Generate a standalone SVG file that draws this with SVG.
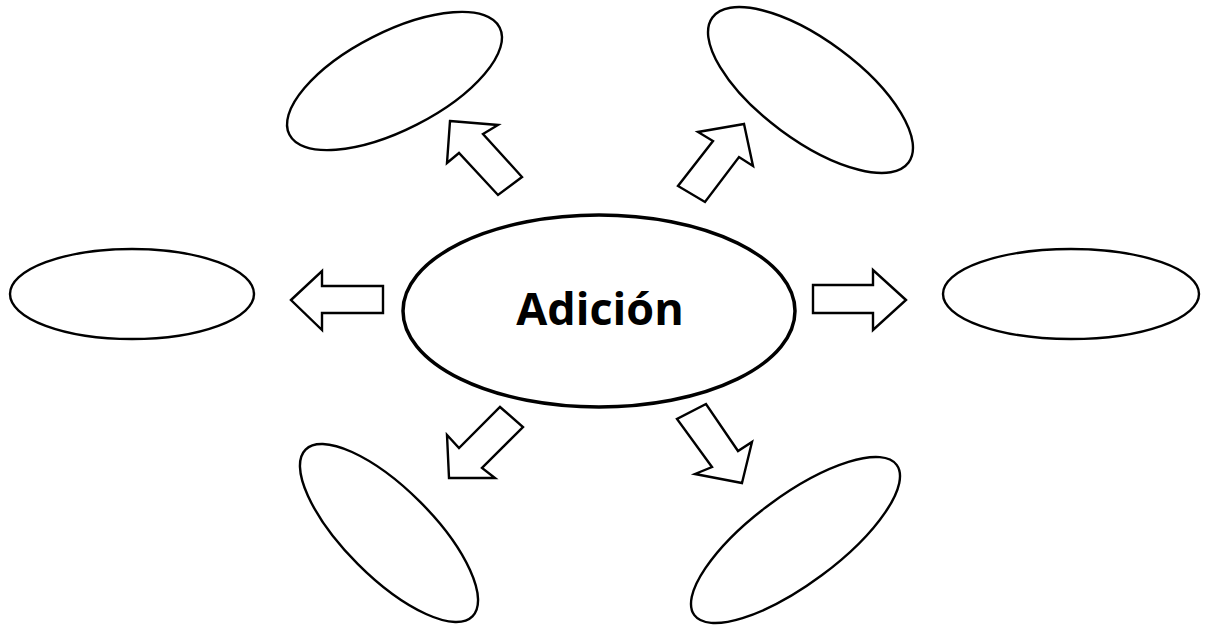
<svg xmlns="http://www.w3.org/2000/svg" width="1207" height="625" viewBox="0 0 1207 625">
<style>
.n{fill:#fff;stroke:#000;stroke-width:2.4}
.c{fill:#fff;stroke:#000;stroke-width:3.5}
.a{fill:#fff;stroke:#000;stroke-width:2.4;stroke-linejoin:miter}
.t{font-family:"Open Sans","Noto Sans",sans-serif;font-weight:bold;font-size:45px;fill:#000}
</style>
<rect width="1207" height="625" fill="#fff"/>
<g id="connectors">
<polygon class="a" points="450,121 498,125 483,134 522,177 498,195 459,153 447,163"/>
<polygon class="a" points="744,124 698,132 713,141 678,186 705,202 739,157 753,166"/>
<polygon class="a" points="291,300 322,271 322,286 383,286 383,313 322,313 322,330"/>
<polygon class="a" points="906,300 873,270 873,285 813,285 813,313 873,313 873,330"/>
<polygon class="a" points="449,478 447,435 459,448 500,407 523,427 482,468 495,478"/>
<polygon class="a" points="742,483 752,442 738,451 706,404 677,419 712,467 695,474"/>
</g>
<g id="center">
<ellipse class="c" cx="599" cy="311" rx="196" ry="96"/>
<text class="t" x="600" y="325" text-anchor="middle">Adición</text>
</g>
<g id="node-left"><ellipse class="n" cx="132" cy="294" rx="122" ry="45"/></g>
<g id="node-right"><ellipse class="n" cx="1071" cy="294" rx="128" ry="45"/></g>
<g id="node-upper-left"><ellipse class="n" cx="394.5" cy="81" rx="118" ry="49" transform="rotate(-27 394.5 81)"/></g>
<g id="node-upper-right"><ellipse class="n" cx="810.5" cy="90" rx="122" ry="50" transform="rotate(36.5 810.5 90)"/></g>
<g id="node-lower-left"><ellipse class="n" cx="389" cy="533" rx="118" ry="44" transform="rotate(45 389 533)"/></g>
<g id="node-lower-right"><ellipse class="n" cx="795.5" cy="540" rx="126" ry="44" transform="rotate(-36.6 795.5 540)"/></g>
</svg>
